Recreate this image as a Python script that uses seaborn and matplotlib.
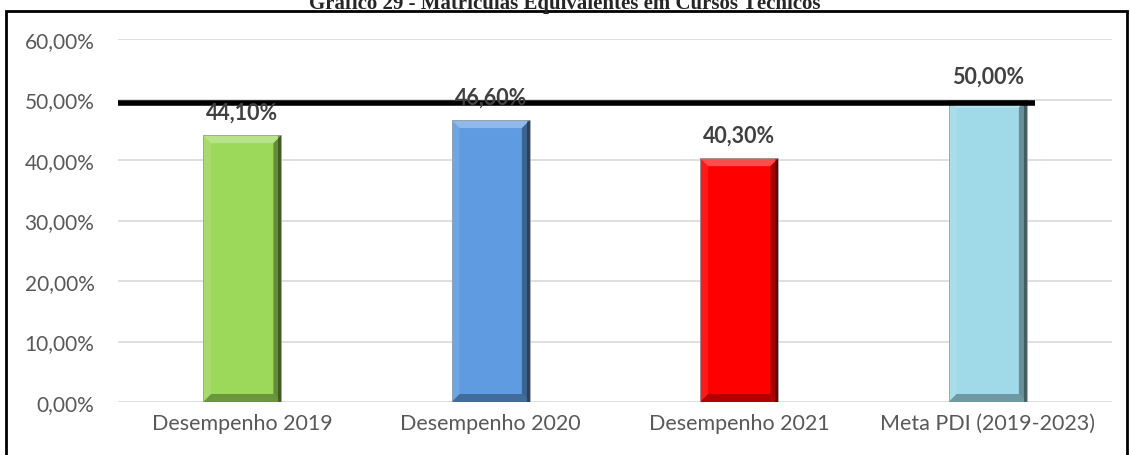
import numpy as np
import pandas as pd
import matplotlib
matplotlib.use("Agg")
import matplotlib.pyplot as plt
import seaborn as sns
from matplotlib.patches import Rectangle, Polygon

# -----------------------------
# Data
# -----------------------------
categories = ["Desempenho 2019", "Desempenho 2020", "Desempenho 2021", "Meta PDI (2019-2023)"]
values = [44.10, 46.60, 40.30, 50.00]
labels = ["44,10%", "46,60%", "40,30%", "50,00%"]
colors = ["#9CD85A", "#5E9BE0", "#FF0000", "#A0DAE8"]
meta_line = 49.5
yticks = [0, 10, 20, 30, 40, 50, 60]

df = pd.DataFrame({"categoria": categories, "valor": values})

sns.set_style("white")
plt.rcParams["font.family"] = ["Lato", "DejaVu Sans"]

W, H = 1130, 456
fig = plt.figure(figsize=(W / 100, H / 100), dpi=100)
ax = fig.add_axes([118 / W, 1 - 403 / H, 994 / W, 363 / H])

sns.barplot(data=df, x="categoria", y="valor", hue="categoria", palette=colors,
            legend=False, width=0.315, ax=ax, saturation=1)

ax.set_ylim(0, 60)
ax.set_xlim(-0.5, 3.5)

# -----------------------------
# Bevel look on the bars
# -----------------------------
px_x = 4 / 994          # data units per pixel
px_y = 60 / 363
bev = 8
for p in ax.patches:
    p.set_edgecolor("none")
    x0, y0 = p.get_x(), p.get_y()
    x1, y1 = x0 + p.get_width(), y0 + p.get_height()
    bx, by = bev * px_x, bev * px_y
    ix0, ix1, iy0, iy1 = x0 + bx, x1 - bx, y0 + by, y1 - by
    shades = [
        ([(x0, y1), (x1, y1), (ix1, iy1), (ix0, iy1)], "white", 0.30),   # top
        ([(x0, y0), (x0, y1), (ix0, iy1), (ix0, iy0)], "white", 0.10),   # left
        ([(x1, y0), (x1, y1), (ix1, iy1), (ix1, iy0)], "black", 0.35),   # right
        ([(x0, y0), (x1, y0), (ix1, iy0), (ix0, iy0)], "black", 0.30),   # bottom
    ]
    for pts, c, a in shades:
        ax.add_patch(Polygon(pts, closed=True, facecolor=c, alpha=a,
                             edgecolor="none", zorder=3))
    # darker thin strip on the far right
    ax.add_patch(Rectangle((x1 - 3 * px_x, y0), 3 * px_x, y1 - y0,
                           facecolor="black", alpha=0.35, edgecolor="none", zorder=3))
    ax.add_patch(Rectangle((x0, y0), x1 - x0, y1 - y0, fill=False,
                           edgecolor="#9aa0a6", lw=0.6, zorder=4))

ax.set_yticks(yticks)
ax.set_yticklabels([f"{t},00%" for t in yticks], color="#595959", fontsize=15)
ax.tick_params(axis="x", colors="#595959", labelsize=15.5, length=0, pad=8)
ax.tick_params(axis="y", length=0, pad=17)
ax.set_xlabel("")
ax.set_ylabel("")
ax.yaxis.grid(True, color="#D9D9D9", lw=1.2)
ax.set_axisbelow(True)
for s in ax.spines.values():
    s.set_visible(False)

# value labels
for i, (v, lab) in enumerate(zip(values, labels)):
    ax.text(i, v + 3.8, lab, ha="center", va="center", fontsize=15.5,
            fontweight="bold", color="#404040", zorder=6)

# meta line
ax.hlines(meta_line, -0.5, 3.19, colors="black", lw=4, zorder=5)

# title (clipped at top as in source)
fig.text(0.5, 1 - 9 / H, "Gráfico 29 - Matrículas Equivalentes em Cursos Técnicos",
         ha="center", va="baseline", fontsize=15, fontweight="bold",
         family="Liberation Serif")

# outer frame
fig.patches.append(Rectangle((6 / W, -0.01), 1121 / W, 1 - 12 / H + 0.01,
                             transform=fig.transFigure, fill=False,
                             edgecolor="black", lw=2))

fig.savefig("out.png", dpi=100)
